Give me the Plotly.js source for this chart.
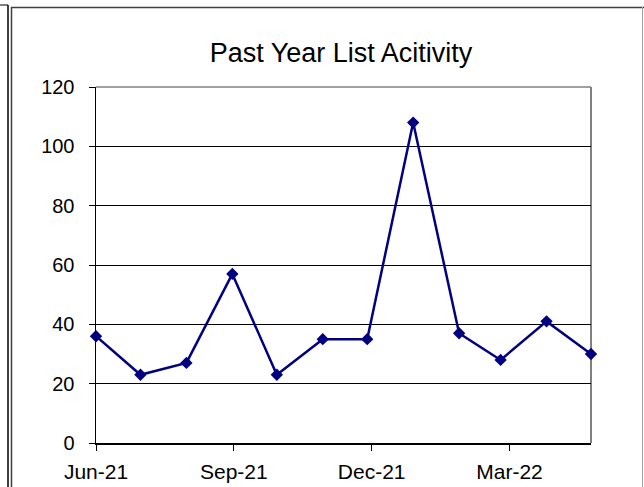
<!DOCTYPE html>
<html>
<head>
<meta charset="utf-8">
<script src="https://cdn.plot.ly/plotly-3.0.1.min.js"></script>
<style>
html,body{margin:0;padding:0;background:#fff;}
#chart{width:644px;height:487px;}
</style>
</head>
<body>
<div id="chart"></div>
<script>
// Data
var months = ['2021-06-01','2021-07-01','2021-08-01','2021-09-01','2021-10-01','2021-11-01',
              '2021-12-01','2022-01-01','2022-02-01','2022-03-01','2022-04-01','2022-05-01'];
var activity = [36, 23, 27, 57, 23, 35, 35, 108, 37, 28, 41, 30];
var xTickVals = ['2021-06-01','2021-09-02','2021-12-04','2022-03-07'];
var xTickText = ['Jun-21','Sep-21','Dec-21','Mar-22'];
var yTickVals = [0, 20, 40, 60, 80, 100, 120];

var W = 644, H = 487;
var ml = 96, mr = W - 591, mt = 87, mb = H - 443;
var pw = W - ml - mr, ph = H - mt - mb;
function px(x){ return (x - ml) / pw; }
function py(y){ return (H - mb - y) / ph; }

var trace = {
  x: months,
  y: activity,
  type: 'scatter',
  mode: 'lines+markers',
  line: {color: '#000080', width: 2.5},
  marker: {symbol: 'diamond', size: 9.5, color: '#000080'},
  cliponaxis: false,
  hoverinfo: 'x+y'
};

var fontFam = '"Liberation Sans", Arial, Helvetica, sans-serif';

var layout = {
  width: W, height: H,
  margin: {l: ml, r: mr, t: mt, b: mb, pad: 0},
  paper_bgcolor: '#ffffff',
  plot_bgcolor: '#ffffff',
  showlegend: false,
  font: {family: fontFam, color: '#000000'},
  title: {
    text: 'Past Year List Acitivity',
    font: {family: fontFam, size: 27, color: '#000000'},
    xref: 'container', x: 341 / W, xanchor: 'center',
    yref: 'container', y: 1 - 53 / H, yanchor: 'middle'
  },
  xaxis: {
    type: 'date',
    range: ['2021-06-01', '2022-05-01'],
    tickmode: 'array',
    tickvals: xTickVals,
    ticktext: xTickText,
    ticks: 'outside', ticklen: 6, tickwidth: 1, tickcolor: '#000000',
    showgrid: false, zeroline: false,
    showline: true, linecolor: '#000000', linewidth: 1.5,
    tickfont: {family: fontFam, size: 21, color: '#000000'},
    ticklabelstandoff: 3,
    fixedrange: true
  },
  yaxis: {
    range: [0, 120],
    tickmode: 'array',
    tickvals: yTickVals,
    ticks: 'outside', ticklen: 6, tickwidth: 1, tickcolor: '#000000',
    showgrid: true, gridcolor: '#000000', gridwidth: 1,
    zeroline: false,
    showline: true, linecolor: '#000000', linewidth: 1.5,
    tickfont: {family: fontFam, size: 20, color: '#000000'},
    ticklabelstandoff: 10,
    fixedrange: true
  },
  shapes: [
    // plot-area border top and right (grey)
    {type: 'line', xref: 'paper', yref: 'paper', x0: 0, x1: 1, y0: 1, y1: 1,
     line: {color: '#808080', width: 1.5}, layer: 'below'},
    {type: 'line', xref: 'paper', yref: 'paper', x0: 1, x1: 1, y0: 0, y1: 1,
     line: {color: '#808080', width: 2}, layer: 'below'},
    // outer chart frame
    {type: 'line', xref: 'paper', yref: 'paper', x0: px(8), x1: px(8), y0: py(5), y1: py(490),
     line: {color: '#000000', width: 1.5}},
    {type: 'line', xref: 'paper', yref: 'paper', x0: px(0), x1: px(8), y0: py(5), y1: py(5),
     line: {color: '#000000', width: 1}},
    {type: 'line', xref: 'paper', yref: 'paper', x0: px(11.5), x1: px(11.5), y0: py(7), y1: py(490),
     line: {color: '#404040', width: 1.5}},
    {type: 'line', xref: 'paper', yref: 'paper', x0: px(11), x1: px(644), y0: py(7.5), y1: py(7.5),
     line: {color: '#404040', width: 1.5}},
    {type: 'line', xref: 'paper', yref: 'paper', x0: px(642.5), x1: px(642.5), y0: py(7), y1: py(490),
     line: {color: '#a0a0a0', width: 1}}
  ]
};

Plotly.newPlot('chart', [trace], layout, {displayModeBar: false, staticPlot: true});
</script>
</body>
</html>
